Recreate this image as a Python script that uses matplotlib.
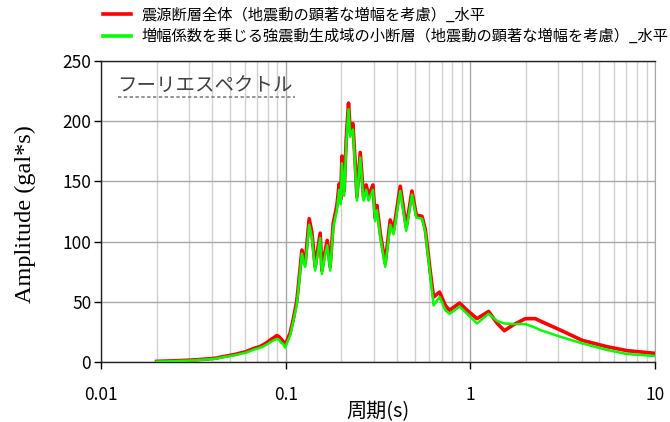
import numpy as np
import matplotlib.pyplot as plt
from matplotlib.lines import Line2D

plt.rcParams['font.family'] = ['Noto Sans CJK JP', 'DejaVu Sans']

# period (s)
period = [0.020, 0.024, 0.027, 0.031, 0.034, 0.038, 0.042, 0.046, 0.050, 0.054,
          0.057, 0.061, 0.064, 0.068, 0.070, 0.073, 0.075, 0.079, 0.082, 0.086,
          0.0896, 0.092, 0.0946, 0.097, 0.0994, 0.1025, 0.1057, 0.1098, 0.115, 0.1184,
          0.1225, 0.1255, 0.1276, 0.1341, 0.1386, 0.1445, 0.1538, 0.1571, 0.1618, 0.1679,
          0.1742, 0.1809, 0.1894, 0.195, 0.1985, 0.2018, 0.2075, 0.2128, 0.219, 0.2237,
          0.2314, 0.2382, 0.2432, 0.2535, 0.2641, 0.2731, 0.281, 0.297, 0.305, 0.312,
          0.3252, 0.3461, 0.3685, 0.384, 0.4174, 0.4498, 0.483, 0.5098, 0.5475, 0.5705,
          0.607, 0.6324, 0.6816, 0.7319, 0.772, 0.875, 0.96, 1.087, 1.256, 1.40,
          1.528, 1.716, 1.986, 2.249, 2.394, 3.073, 4.03, 5.504, 7.064, 10.0]

# 震源断層全体
amp_red = [0.5, 0.9, 1.2, 1.6, 2.0, 2.6, 3.2, 4.5, 5.5, 6.5,
           7.5, 8.5, 10, 11.5, 12, 13, 14, 16, 18, 20,
           22, 21, 19, 17, 14, 19, 24, 35, 51, 70,
           93, 85, 82, 119, 108, 79, 107, 76, 88, 101,
           79, 115, 130, 148, 135, 171, 142, 185, 215, 192,
           198, 164, 137, 174, 137, 147, 138, 147, 120, 130,
           107, 82, 118, 109, 146, 112, 142, 122, 121, 110,
           75, 54, 58, 47, 43, 49, 43, 36, 42, 32,
           26, 31, 36, 36, 34, 26.5, 18, 12.7, 9.4, 7.2]

# 増幅係数を乗じる強震動生成域の小断層
amp_green = [0.3, 0.6, 0.9, 1.3, 1.7, 2.2, 2.8, 4.0, 5.0, 5.8,
             6.8, 7.8, 9, 10.5, 11, 12, 12.5, 14.5, 16, 18,
             19, 18.5, 16, 15, 12, 17, 22, 33, 48, 67,
             90, 82, 79, 114, 104, 76, 103, 73, 85, 97,
             76, 111, 126, 143, 131, 165, 138, 180, 210, 187,
             193, 160, 134, 170, 134, 143, 134, 143, 117, 126,
             104, 79, 114, 106, 142, 109, 139, 120, 119, 108,
             72, 47, 54, 43, 40, 46, 40, 32, 40, 34,
             32, 31.5, 31.5, 28.5, 26.5, 21, 15.5, 10, 6.6, 5]

labels = ['震源断層全体（地震動の顕著な増幅を考慮）_水平',
          '増幅係数を乗じる強震動生成域の小断層（地震動の顕著な増幅を考慮）_水平']

fig = plt.figure(figsize=(6.7, 4.22), dpi=100)
ax = fig.add_axes([0.1507, 0.1422, 0.8269, 0.7133])

ax.plot(period, amp_red, color='#ff0000', lw=2.6, zorder=3)
ax.plot(period, amp_green, color='#00ff00', lw=1.8, zorder=4)

ax.set_xscale('log')
ax.set_xlim(0.01, 10)
ax.set_ylim(0, 250)
ax.set_yticks([0, 50, 100, 150, 200, 250])
ax.set_xticks([0.01, 0.1, 1, 10])
ax.set_xticklabels(['0.01', '0.1', '1', '10'])
ax.xaxis.set_minor_locator(plt.LogLocator(base=10, subs=np.arange(2, 10)))
ax.xaxis.set_minor_formatter(plt.NullFormatter())

ax.grid(which='minor', axis='x', color='#d0d0d0', lw=1.0)
ax.grid(which='major', axis='x', color='#a8a8a8', lw=1.0)
ax.grid(which='major', axis='y', color='#a8a8a8', lw=1.0)
ax.set_axisbelow(True)

ax.tick_params(axis='both', which='major', direction='out', length=5, width=1,
               labelsize=12.5, colors='black')
ax.tick_params(axis='x', which='minor', length=0)
ax.tick_params(axis='x', pad=12)
ax.tick_params(axis='y', pad=2)
for s in ['left', 'bottom', 'top']:
    ax.spines[s].set_color('#222222')
    ax.spines[s].set_linewidth(1.0)
ax.spines['right'].set_color('#a8a8a8')

ax.set_ylabel('Amplitude (gal*s)', family=['Liberation Serif', 'DejaVu Serif'],
              fontsize=17.5)
ax.yaxis.set_label_coords(-0.117, 0.49)
ax.set_xlabel('周期(s)', fontsize=14.5, labelpad=-1.5)

# title inside the plot with dotted underline
ax.text(0.03, 0.955, 'フーリエスペクトル', transform=ax.transAxes, fontsize=14,
        color='#404040', va='top', ha='left')
ax.add_line(Line2D([0.03, 0.35], [0.879, 0.879], transform=ax.transAxes,
                   color='#808080', lw=1.2, ls=(0, (2, 1.5))))

handles = [Line2D([], [], color='#ff0000', lw=2.6),
           Line2D([], [], color='#00ff00', lw=2.6)]
fig.legend(handles, labels, loc='upper left', bbox_to_anchor=(103 / 670, 0.985),
           frameon=False, fontsize=11, handlelength=1.85, handletextpad=0.7,
           labelspacing=0.3, borderaxespad=0, borderpad=0)

fig.savefig('out.png', dpi=100)
